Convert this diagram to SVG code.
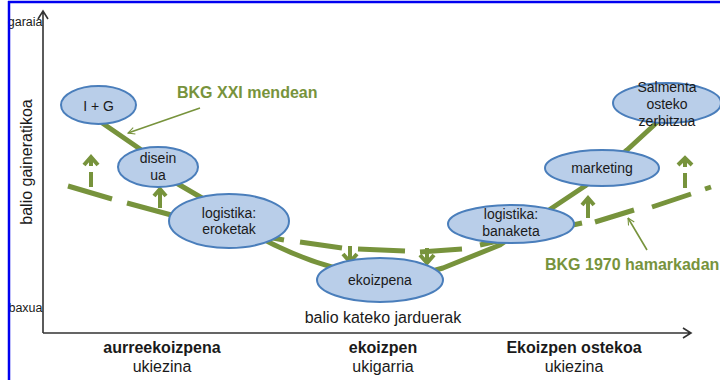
<svg xmlns="http://www.w3.org/2000/svg" width="720" height="380" viewBox="0 0 720 380">
<defs>
<style>
.node ellipse{fill:#b9cee9;stroke:#4a7ebb;stroke-width:2}
.nt{font-family:"Liberation Sans",Arial,sans-serif;font-size:14px;fill:#1a1a1a;text-anchor:middle}
.lbl{font-family:"Liberation Sans",Arial,sans-serif;font-size:16px;fill:#1a1a1a;text-anchor:middle}
.b{font-weight:bold}
.green{font-family:"Liberation Sans",Arial,sans-serif;font-size:16px;font-weight:bold;fill:#77933c}
.solid{fill:none;stroke:#77933c;stroke-width:5;stroke-linejoin:round;stroke-linecap:butt}
.dash{fill:none;stroke:#77933c;stroke-width:5;stroke-linecap:butt}
.arr{fill:none;stroke:#77933c;stroke-width:4}
.thin{fill:none;stroke:#77933c;stroke-width:1.6;marker-end:url(#openG)}
.axis{fill:none;stroke:#333;stroke-width:1.6}
</style>
<marker id="openG" viewBox="0 0 12 12" refX="11" refY="6" markerWidth="8" markerHeight="8" markerUnits="userSpaceOnUse" orient="auto">
<path d="M1,1 L11,6 L1,11" fill="none" stroke="#77933c" stroke-width="1.6"/>
</marker>
</defs>

<!-- axes -->
<g id="axes">
<path class="axis" d="M43,333 V11 M38,19 L43,11 L48,19"/>
<path class="axis" d="M43,333 H691 M683,328 L691,333 L683,338"/>
<text x="42.5" y="26" font-family="Liberation Sans,Arial,sans-serif" font-size="12.5" fill="#1a1a1a" text-anchor="end">garaia</text>
<text x="42.5" y="312" font-family="Liberation Sans,Arial,sans-serif" font-size="12.5" fill="#1a1a1a" text-anchor="end">baxua</text>
<text class="lbl" transform="translate(32,162) rotate(-90)">balio gaineratikoa</text>
<text class="lbl" x="383" y="323">balio kateko jarduerak</text>
</g>

<!-- connectors -->
<g id="connectors">
<path class="solid" d="M95,118 L140,149 L178,184 L202,198 L255,235 Q295,257 335,268 L425,273 L443,268 L500,245 L552,208 L585,186 L627,150 L665,115"/>
<path class="dash" d="M68,186 L112,199 M127,203 L175,216 M250,234 L284,240 M300,242 L342,248 M358,249 L405,251 M420,252 L462,249 M480,245 L520,236 M545,231 L582,223 M595,222 L634,210 M652,207 L691,194 M705,189 L711,187"/>
<g id="up-arrows">
<path class="arr" d="M91,158 V166 M91,172 V187"/><polyline class="arr" points="84,165 91,157 98,165"/>
<path class="arr" d="M160,190 V208"/><polyline class="arr" points="154,196 160,189 166,196"/>
<path class="arr" d="M588,200 V218"/><polyline class="arr" points="582,205 588,198 594,205"/>
<path class="arr" d="M685,159 V167 M685,173 V188"/><polyline class="arr" points="678,165 685,158 692,165"/>
</g>
<g id="down-arrows">
<path class="arr" d="M350,246 V260"/><polyline class="arr" points="343,254 350,262 357,254"/>
<path class="arr" d="M427,248 V261"/><polyline class="arr" points="420,255 427,263 434,255"/>
</g>
<path class="thin" d="M200,108 L128,133"/>
<path class="thin" d="M647,250 L628,218"/>
</g>

<!-- nodes -->
<g id="n-ig" class="node"><ellipse cx="98.5" cy="105" rx="37.5" ry="19"/><text class="nt" x="98.5" y="111">I + G</text></g>
<g id="n-disein" class="node"><ellipse cx="158" cy="167" rx="40" ry="20"/><text class="nt" x="158" y="163">disein</text><text class="nt" x="158" y="180">ua</text></g>
<g id="n-eroketak" class="node"><ellipse cx="229" cy="221" rx="60" ry="27"/><text class="nt" x="229" y="218">logistika:</text><text class="nt" x="229" y="234">eroketak</text></g>
<g id="n-ekoizpena" class="node"><ellipse cx="380" cy="280" rx="63" ry="22"/><text class="nt" x="380" y="285">ekoizpena</text></g>
<g id="n-banaketa" class="node"><ellipse cx="511" cy="224" rx="63" ry="19"/><text class="nt" x="511" y="219">logistika:</text><text class="nt" x="511" y="236">banaketa</text></g>
<g id="n-marketing" class="node"><ellipse cx="602" cy="168" rx="57" ry="18"/><text class="nt" x="602" y="173">marketing</text></g>
<g id="n-salmenta" class="node"><ellipse cx="667" cy="103" rx="54" ry="20"/><text class="nt" x="667" y="92">Salmenta</text><text class="nt" x="667" y="109">osteko</text><text class="nt" x="667" y="126">zerbitzua</text></g>

<!-- annotations -->
<text class="green" x="177" y="98">BKG XXI mendean</text>
<text class="green" x="545" y="270">BKG 1970 hamarkadan</text>

<!-- bottom labels -->
<g id="phases">
<text class="lbl b" x="162" y="353">aurreekoizpena</text>
<text class="lbl" x="162" y="372">ukiezina</text>
<text class="lbl b" x="383" y="353">ekoizpen</text>
<text class="lbl" x="383" y="372">ukigarria</text>
<text class="lbl b" x="574" y="353">Ekoizpen ostekoa</text>
<text class="lbl" x="574" y="372">ukiezina</text>
</g>

<!-- frame -->
<path d="M8,2 H720 M9,1 V380" fill="none" stroke="#0000f0" stroke-width="2.5"/>
</svg>
